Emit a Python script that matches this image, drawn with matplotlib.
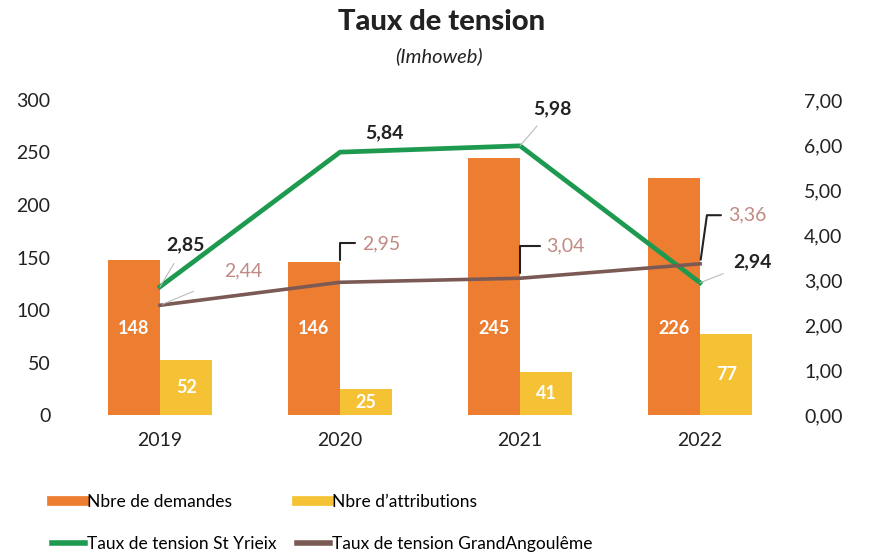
import matplotlib.pyplot as plt
import numpy as np
from matplotlib.lines import Line2D

plt.rcParams['font.family'] = ['Lato', 'DejaVu Sans']

years = ['2019', '2020', '2021', '2022']
demandes = [148, 146, 245, 226]
attributions = [52, 25, 41, 77]
taux_st_yrieix = [2.85, 5.84, 5.98, 2.94]
taux_grand_ang = [2.44, 2.95, 3.04, 3.36]

c_dem = '#ED7D31'
c_att = '#F6C235'
c_green = '#1E9A50'
c_brown = '#7B5A55'
c_brown_txt = '#C08A82'

fig = plt.figure(figsize=(8.75, 5.55), dpi=100)
ax = fig.add_axes([0.08, 0.252, 0.823, 0.568])
ax2 = ax.twinx()

x = np.arange(len(years))
w = 0.29
ax.bar(x - w / 2, demandes, w, color=c_dem)
ax.bar(x + w / 2, attributions, w, color=c_att)

for i in range(len(years)):
    ax.text(x[i] - w / 2, 82, str(demandes[i]), ha='center', va='center',
            color='white', fontsize=13, fontweight='bold')
    ax.text(x[i] + w / 2, attributions[i] / 2, str(attributions[i]), ha='center', va='center',
            color='white', fontsize=13, fontweight='bold')

ax2.plot(x, taux_st_yrieix, color=c_green, lw=3.4, zorder=3)
ax2.plot(x, taux_grand_ang, color=c_brown, lw=2.6, zorder=3)

def fmt(v):
    return ('%.2f' % v).replace('.', ',')

# labels for St Yrieix (bold black)
green_off = [(18, 30), (32, 14), (23, 27), (38, 15)]
green_lead = [True, False, True, True]
for i, v in enumerate(taux_st_yrieix):
    ap = None
    if green_lead[i]:
        ap = dict(arrowstyle='-', color='#BBBBBB', lw=0.8, shrinkA=6, shrinkB=0)
    ax2.annotate(fmt(v), (x[i], v), xytext=green_off[i], textcoords='offset points',
                 ha='center', va='center', fontsize=14, fontweight='bold',
                 color='#222222', arrowprops=ap)

# labels for GrandAngouleme (brown), with elbow leaders
brown_off = [(60, 25), (16, 28), (19, 23), (20, 35)]
brown_ang = [90, 90, 90, 82]
brown_shrink = [0, 16, 4, 3]
for i, v in enumerate(taux_grand_ang):
    if i == 0:
        ap = dict(arrowstyle='-', color='#BBBBBB', lw=0.8, shrinkA=22, shrinkB=2)
        ha = 'center'
    else:
        ap = dict(arrowstyle='-', color='#222222', lw=1.5, relpos=(0, 0.5), patchA=None,
                  shrinkA=5, shrinkB=brown_shrink[i],
                  connectionstyle='angle,angleA=0,angleB=%d,rad=0' % brown_ang[i])
        ha = 'left'
    ax2.annotate(fmt(v), (x[i], v), xytext=brown_off[i], textcoords='offset points',
                 ha=ha, va='center', fontsize=14, color=c_brown_txt, arrowprops=ap)

ax.set_xlim(-0.5, 3.5)
ax.set_ylim(0, 300)
ax2.set_ylim(0, 7)
ax.set_yticks(np.arange(0, 301, 50))
ax2.set_yticks(np.arange(0, 7.01, 1))
ax2.set_yticklabels([fmt(v) for v in np.arange(0, 7.01, 1)])
ax.set_xticks(x)
ax.set_xticklabels(years)

for a in (ax, ax2):
    for s in a.spines.values():
        s.set_visible(False)
    a.tick_params(length=0, labelsize=14, colors='#222222')
ax.tick_params(axis='y', pad=14)
ax2.tick_params(axis='y', pad=10)
ax.tick_params(axis='x', pad=12)

fig.text(0.505, 0.96, 'Taux de tension', ha='center', va='center', fontsize=21, fontweight='black',
         color='#222222')
fig.text(0.502, 0.898, '(Imhoweb)', ha='center', va='center', fontsize=14.5, style='italic',
         color='#222222')

leg_kw = dict(loc='lower left', frameon=False, handlelength=1.9, handletextpad=0.1,
              labelspacing=1.45, prop={'size': 12.5})
fig.legend([Line2D([], [], color=c_dem, lw=7), Line2D([], [], color=c_green, lw=4)],
           ['Nbre de demandes', 'Taux de tension St Yrieix'],
           bbox_to_anchor=(0.042, -0.022), **leg_kw)
fig.legend([Line2D([], [], color=c_att, lw=7), Line2D([], [], color=c_brown, lw=4)],
           ["Nbre d\u2019attributions", 'Taux de tension GrandAngoul\u00eame'],
           bbox_to_anchor=(0.322, -0.022), **leg_kw)

fig.savefig('out.png', dpi=100)
